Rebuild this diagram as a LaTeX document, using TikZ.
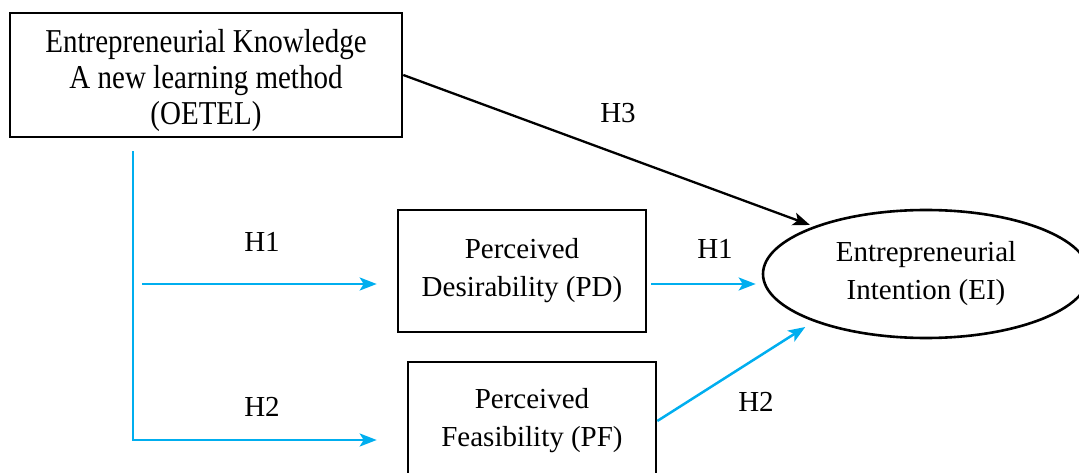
\documentclass[tikz,border=0pt]{standalone}
\usepackage{fontspec}
\usepackage{graphicx}
\setmainfont{Liberation Serif}
\usetikzlibrary{shapes.geometric,arrows.meta}
\definecolor{skyblue}{RGB}{0,174,239}
\begin{document}
\begin{tikzpicture}[x=1pt,y=-1pt,
  font=\fontsize{29}{38}\selectfont,
  box/.style={draw,line width=2.6pt,align=center,inner sep=0pt},
  blk/.style={line width=2.3pt,-{Stealth[length=17pt,width=13pt,inset=4pt]}},
  blu/.style={skyblue,line width=2.5pt,-{Stealth[length=17pt,width=13pt,inset=4pt]}}]
\clip (0,0) rectangle (1079,473);
% blocks
\node[box,minimum width=392pt,minimum height=124pt] (oetel) at (206,75)
  {\raisebox{-6pt}[\height][\depth]{\scalebox{1}[1.15]{\fontsize{29}{31.5}\selectfont\begin{tabular}{@{}c@{}}
   Entrepreneurial Knowledge\\A new learning method\\(OETEL)\end{tabular}}}};
\node[box,minimum width=248pt,minimum height=122pt] (pd) at (522,271)
  {Perceived\\Desirability (PD)};
\node[box,minimum width=248pt,minimum height=118pt] (pf) at (532,421)
  {Perceived\\Feasibility (PF)};
\node[box,ellipse,minimum width=326pt,minimum height=128pt] (ei) at (926,274)
  {Entrepreneurial\\Intention (EI)};
\coordinate (h1from) at (142,284);
% arrows
\draw [blk,shorten >=4pt] (oetel.east) -- (ei.157);
\draw [blu,shorten >=20pt] (h1from) -- (h1from -| pd.west);
\draw [blu,shorten <=4pt,shorten >=6pt] (pd.east |- h1from) -- (h1from -| ei.west);
\draw [blu] ([xshift=-73pt,yshift=-13pt]oetel.south) |- ([xshift=-30pt,yshift=-19pt]pf.west);
\draw [blu,shorten >=10pt] (pf.east) -- (ei.203);
% labels
\node (h3) at (618,113) {H3};
\node (h1a) at (262,242) {H1};
\node (h1b) at (715,249) {H1};
\node (h2a) at (262,407) {H2};
\node (h2b) at (756,402) {H2};
\end{tikzpicture}
\end{document}
